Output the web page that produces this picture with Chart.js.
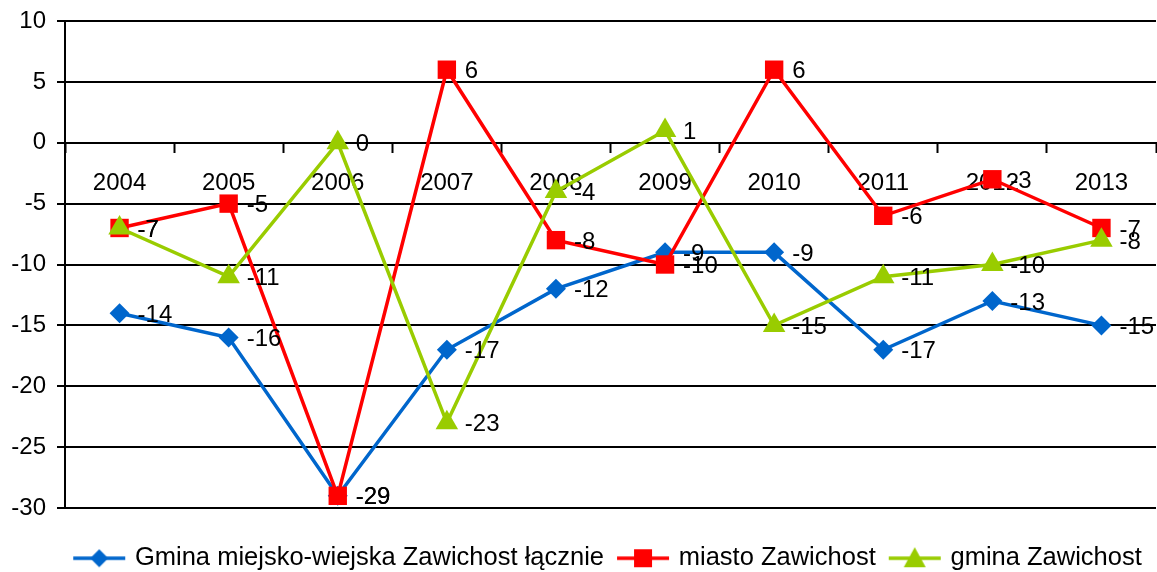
<!DOCTYPE html>
<html>
<head>
<meta charset="utf-8">
<script src="https://cdn.jsdelivr.net/npm/chart.js@4/dist/chart.umd.min.js"></script>
<style>
   html, body { margin: 0; padding: 0; background: #ffffff; }
   #wrap { width: 1157px; height: 572px; }
</style>
</head>
<body>
<div id="wrap"><canvas id="chartCanvas"></canvas></div>
<script>
const years = ["2004", "2005", "2006", "2007", "2008", "2009", "2010", "2011", "2012", "2013"];
const gminaTotal = [-14, -16, -29, -17, -12, -9, -9, -17, -13, -15];
const miasto = [-7, -5, -29, 6, -8, -10, 6, -6, -3, -7];
const gminaWiejska = [-7, -11, 0, -23, -4, 1, -15, -11, -10, -8];
const yTicks = [10, 5, 0, -5, -10, -15, -20, -25, -30];

const FONT = "Liberation Sans, Arial, sans-serif";
const BLUE = "#0066CC";
const RED = "#FF0000";
const GREEN = "#99CC00";

function legendMarker(color, style)
{
   const c = document.createElement("canvas");
   c.width = 54;
   c.height = 26;
   const ctx = c.getContext("2d");
   ctx.strokeStyle = color;
   ctx.lineWidth = 3.5;
   ctx.beginPath();
   ctx.moveTo(1, 13);
   ctx.lineTo(53, 13);
   ctx.stroke();
   ctx.fillStyle = color;
   ctx.beginPath();
   if (style === "diamond")
   {
      ctx.moveTo(27, 4);
      ctx.lineTo(36, 13);
      ctx.lineTo(27, 22);
      ctx.lineTo(18, 13);
   }
   else if (style === "square")
   {
      ctx.rect(18, 4, 18, 18);
   }
   else
   {
      ctx.moveTo(27, 2);
      ctx.lineTo(38, 22);
      ctx.lineTo(16, 22);
   }
   ctx.closePath();
   ctx.fill();
   return c;
}

const valueLabels =
{
   id: "valueLabels",
   afterDatasetsDraw(chart)
   {
      const ctx = chart.ctx;
      ctx.save();
      ctx.font = "24px " + FONT;
      ctx.fillStyle = "#000000";
      ctx.textAlign = "left";
      ctx.textBaseline = "middle";
      chart.data.datasets.forEach(function(dataset, i)
      {
         const meta = chart.getDatasetMeta(i);
         meta.data.forEach(function(point, j)
         {
            ctx.fillText(String(dataset.data[j]), point.x + 18, point.y + 2);
         });
      });
      ctx.restore();
   }
};

// the legend in the original sits a bit right of centre
const legendShift =
{
   id: "legendShift",
   afterLayout(chart)
   {
      chart.legend.left += 31;
      chart.legend.right += 31;
   }
};

function series(label, data, color, style, radius, order, marker)
{
   return {
      label: label,
      data: data,
      borderColor: color,
      backgroundColor: color,
      borderWidth: 3.5,
      pointStyle: style,
      pointRadius: radius,
      pointHoverRadius: radius,
      pointBorderWidth: 0,
      pointBackgroundColor: color,
      tension: 0,
      order: order,
      legendMarker: marker,
   };
}

const ctx = document.getElementById("chartCanvas").getContext("2d");
const chart = new Chart(ctx,
{
   type: "line",
   data:
   {
      labels: years,
      datasets:
      [
         series("Gmina miejsko-wiejska Zawichost łącznie", gminaTotal, BLUE, "rectRot", 10, 3, legendMarker(BLUE, "diamond")),
         series("miasto Zawichost", miasto, RED, "rect", 13, 2, legendMarker(RED, "square")),
         series("gmina Zawichost", gminaWiejska, GREEN, "triangle", 13, 1, legendMarker(GREEN, "triangle")),
      ],
   },
   options:
   {
      responsive: true,
      maintainAspectRatio: false,
      animation: false,
      layout: { autoPadding: false, padding: { top: 21, right: 1, bottom: -9, left: 0 } },
      plugins:
      {
         tooltip: { enabled: false },
         legend:
         {
            position: "bottom",
            align: "center",
            title:
            {
               display: true,
               text: " ",
               font: { size: 1 },
               padding: { top: 0, bottom: 20.3 },
            },
            labels:
            {
               usePointStyle: true,
               pointStyleWidth: 46,
               boxHeight: 20,
               padding: 16,
               color: "#000000",
               font: { family: FONT, size: 25.5 },
               sort: function(a, b) { return a.datasetIndex - b.datasetIndex; },
               generateLabels: function(ch)
               {
                  return ch.data.datasets.map(function(ds, i)
                  {
                     return {
                        text: ds.label,
                        datasetIndex: i,
                        pointStyle: ds.legendMarker,
                        fillStyle: ds.borderColor,
                        strokeStyle: ds.borderColor,
                        lineWidth: 0,
                        fontColor: "#000000",
                        hidden: false,
                     };
                  });
               },
            },
         },
      },
      scales:
      {
         x:
         {
            type: "category",
            position: { y: 0 },
            offset: true,
            z: 1,
            afterFit: function(scale)
            {
               scale.paddingLeft = 0;
               scale.paddingRight = 0;
            },
            grid:
            {
               offset: true,
               drawOnChartArea: false,
               drawTicks: true,
               tickLength: 9,
               tickWidth: 2,
               tickColor: "#000000",
            },
            border: { display: true, color: "#000000", width: 2 },
            ticks:
            {
               color: "#000000",
               font: { family: FONT, size: 24 },
               padding: 17,
               maxRotation: 0,
               autoSkip: false,
            },
         },
         y:
         {
            min: -30,
            max: 10,
            afterFit: function(scale)
            {
               scale.width = 65;
               scale.paddingTop = 0;
               scale.paddingBottom = 0;
            },
            afterBuildTicks: function(scale)
            {
               scale.ticks = yTicks.map(function(v) { return { value: v }; });
            },
            grid:
            {
               color: "#000000",
               lineWidth: 2,
               tickLength: 8,
               tickColor: "#000000",
            },
            border: { display: true, color: "#000000", width: 2 },
            ticks:
            {
               color: "#000000",
               font: { family: FONT, size: 24 },
               padding: 11,
            },
         },
      },
   },
   plugins: [valueLabels, legendShift],
});
</script>
</body>
</html>
